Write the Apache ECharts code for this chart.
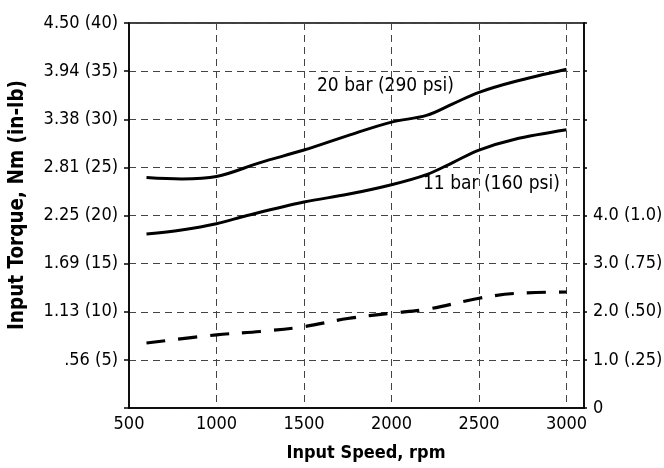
<!DOCTYPE html>
<html>
<head>
<meta charset="utf-8">
<script src="https://cdn.jsdelivr.net/npm/echarts@6/dist/echarts.min.js"></script>
<style>html,body{margin:0;padding:0;background:#fff}#c{width:664px;height:468px}</style>
</head>
<body>
<div id="c"></div>
<script>
// Input speed (rpm) and curve values
const bar20 = [[600,23.95],[800,23.8],[1000,24.05],[1250,25.5],[1500,26.8],[1750,28.3],[2000,29.7],[2200,30.4],[2350,31.6],[2500,32.8],[2700,33.9],[3000,35.2]]; // in-lb
const bar11 = [[600,18.07],[800,18.5],[1000,19.15],[1175,20.0],[1500,21.4],[1750,22.2],[2000,23.2],[2200,24.25],[2350,25.5],[2500,26.8],[2700,27.9],[3000,28.9]]; // in-lb
const dashed = [[600,1.35],[1000,1.52],[1250,1.59],[1500,1.69],[1750,1.86],[2000,1.97],[2200,2.05],[2500,2.28],[2700,2.38],[3000,2.41]]; // right-axis units
const xTicks = [500,1000,1500,2000,2500,3000];
const leftLabels = ['', '.56 (5)', '1.13 (10)', '1.69 (15)', '2.25 (20)', '2.81 (25)', '3.38 (30)', '3.94 (35)', '4.50 (40)'];
const rightLabels = ['0', '1.0 (.25)', '2.0 (.50)', '3.0 (.75)', '4.0 (1.0)', '', '', '', ''];
const label20 = '20 bar (290 psi)';
const label11 = '11 bar (160 psi)';
const xTitle = 'Input Speed, rpm';
const yTitle = 'Input Torque, Nm (in-lb)';

const FAM = '"DejaVu Sans", sans-serif';
const grid = {color:'#444', type:[7,5], width:1};
const lbl = {color:'#000', fontFamily:FAM, fontSize:18, fontWeight:'condensed'};

const chart = echarts.init(document.getElementById('c'), null, {renderer:'canvas'});
chart.setOption({
  animation:false,
  backgroundColor:'#fff',
  grid:{left:129, right:80, top:23, bottom:60, outerBoundsMode:'none', containLabel:false,
    show:true, borderColor:'#000', borderWidth:1.5, backgroundColor:'transparent'},
  xAxis:{type:'value', min:500, max:3100, interval:500,
    axisLine:{show:true, lineStyle:{color:'#000', width:1.5}},
    axisTick:{show:false},
    splitLine:{show:true, lineStyle:grid},
    axisLabel:Object.assign({}, lbl, {margin:7,
      formatter:v => xTicks.indexOf(v) >= 0 ? String(v) : ''})
  },
  yAxis:[
    {type:'value', min:0, max:40, interval:5, position:'left',
      axisLine:{show:true, lineStyle:{color:'#000', width:1.5}},
      axisTick:{show:true, inside:false, length:5, lineStyle:{color:'#000', width:1.5}},
      splitLine:{show:true, lineStyle:grid},
      axisLabel:Object.assign({}, lbl, {margin:11,
        formatter:v => leftLabels[Math.round(v/5)] || ''})
    },
    {type:'value', min:0, max:8, interval:1, position:'right',
      axisLine:{show:true, lineStyle:{color:'#000', width:1.5}},
      axisTick:{show:true, inside:false, length:3, lineStyle:{color:'#000', width:1.5}},
      splitLine:{show:false},
      axisLabel:Object.assign({}, lbl, {margin:9,
        formatter:v => rightLabels[Math.round(v)] || ''})
    }
  ],
  series:[
    {type:'line', data:bar20, yAxisIndex:0, smooth:0.35, showSymbol:false, lineStyle:{color:'#000', width:3}},
    {type:'line', data:bar11, yAxisIndex:0, smooth:0.35, showSymbol:false, lineStyle:{color:'#000', width:3}},
    {type:'line', data:dashed, yAxisIndex:1, smooth:0.35, showSymbol:false, lineStyle:{color:'#000', width:3.2, type:[19,13]}}
  ],
  graphic:[
    {type:'text', left:317, top:77, style:{text:label20, font:'condensed 19px ' + FAM, fill:'#000'}},
    {type:'text', left:423, top:175, style:{text:label11, font:'condensed 19px ' + FAM, fill:'#000'}},
    {type:'text', x:366, y:453, style:{text:xTitle, font:'bold condensed 18px ' + FAM, fill:'#000', align:'center', verticalAlign:'middle'}},
    {type:'text', x:18, y:205, rotation:Math.PI/2, style:{text:yTitle, font:'bold condensed 20.5px ' + FAM, fill:'#000', align:'center', verticalAlign:'middle'}}
  ]
});
</script>
</body>
</html>
